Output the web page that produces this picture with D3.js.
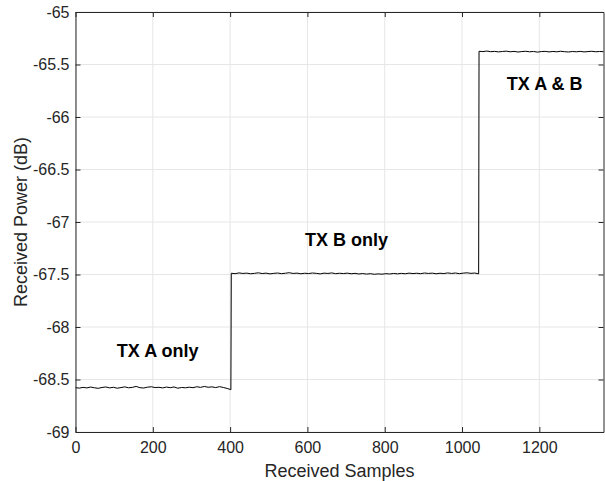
<!DOCTYPE html>
<html>
<head>
<meta charset="utf-8">
<script src="https://cdn.jsdelivr.net/npm/d3@7"></script>
<style>
  html, body { margin: 0; padding: 0; background: #fff; }
  svg { display: block; font-family: "Liberation Sans", Arial, Helvetica, sans-serif; }
</style>
</head>
<body>
<svg id="chart" width="605" height="481"></svg>
<script>
// Received power per sample, in dB, for the three transmit configurations.
// Each segment covers a span of sample indices; values are sampled evenly across it.
const segmentNames = ["TX A only", "TX B only", "TX A & B"];
const segmentStart = [0, 403, 1044];
const segmentEnd = [402, 1043, 1366];

const powerTxA = [
  -68.578, -68.582, -68.575, -68.580, -68.572, -68.579, -68.584, -68.576, -68.571, -68.580,
  -68.574, -68.583, -68.577, -68.570, -68.579, -68.575, -68.566, -68.578, -68.581, -68.573,
  -68.569, -68.577, -68.574, -68.580, -68.572, -68.578, -68.571, -68.583, -68.576, -68.579,
  -68.573, -68.578, -68.569, -68.575, -68.566, -68.574, -68.570, -68.577, -68.568, -68.576,
  -68.585, -68.597
];
const powerTxB = [
  -67.488, -67.492, -67.485, -67.490, -67.487, -67.493, -67.489, -67.484, -67.491, -67.487,
  -67.494, -67.489, -67.486, -67.492, -67.488, -67.483, -67.490, -67.487, -67.493, -67.488,
  -67.491, -67.486, -67.489, -67.494, -67.487, -67.490, -67.485, -67.492, -67.488, -67.491,
  -67.487, -67.493, -67.489, -67.495, -67.491, -67.496, -67.492, -67.498, -67.494, -67.497,
  -67.492, -67.495, -67.490, -67.494, -67.489, -67.493, -67.487, -67.491, -67.488, -67.492,
  -67.486, -67.490, -67.487, -67.493, -67.488, -67.491, -67.485, -67.490, -67.486, -67.492,
  -67.487, -67.484, -67.489, -67.486, -67.494
];
const powerTxAB = [
  -65.374, -65.377, -65.372, -65.378, -65.375, -65.380, -65.376, -65.373, -65.379, -65.375,
  -65.381, -65.377, -65.374, -65.379, -65.376, -65.382, -65.377, -65.375, -65.380, -65.376,
  -65.379, -65.374, -65.378, -65.381, -65.376, -65.379, -65.375, -65.380, -65.377, -65.374,
  -65.379, -65.376, -65.378
];
const segmentValues = [powerTxA, powerTxB, powerTxAB];

// Annotation anchors (sample index, dB) for the segment labels
const labelSample = [107, 594, 1116];
const labelPower = [-68.29, -67.23, -65.745];

// Axis ticks
const xTicks = [0, 200, 400, 600, 800, 1000, 1200];
const yTicks = [-69, -68.5, -68, -67.5, -67, -66.5, -66, -65.5, -65];
const xDomain = [0, 1366];
const yDomain = [-69, -65];

const svg = d3.select("#chart");
const margin = { left: 75.5, right: 1.5, top: 12, bottom: 49 };
const W = 605, H = 481;
const x = d3.scaleLinear().domain(xDomain).range([margin.left, W - margin.right]);
const y = d3.scaleLinear().domain(yDomain).range([H - margin.bottom, margin.top]);

const axisColor = "#262626";
const gridColor = "#e6e6e6";
const plainNumber = d => String(d);

// Grid
const grid = svg.append("g");
grid.selectAll("line.gx").data(xTicks).join("line")
  .attr("x1", d => x(d)).attr("x2", d => x(d))
  .attr("y1", y.range()[0]).attr("y2", y.range()[1])
  .attr("stroke", gridColor).attr("stroke-width", 1);
grid.selectAll("line.gy").data(yTicks).join("line")
  .attr("y1", d => y(d)).attr("y2", d => y(d))
  .attr("x1", x.range()[0]).attr("x2", x.range()[1])
  .attr("stroke", gridColor).attr("stroke-width", 1);

// Data line built from the segment arrays
const points = [];
segmentValues.forEach((vals, s) => {
  const n = vals.length;
  vals.forEach((v, i) => {
    points.push([segmentStart[s] + i * (segmentEnd[s] - segmentStart[s]) / (n - 1), v]);
  });
});
const line = d3.line().x(d => x(d[0])).y(d => y(d[1]));
svg.append("path").datum(points)
  .attr("d", line)
  .attr("fill", "none")
  .attr("stroke", "#000")
  .attr("stroke-width", 1)
  .attr("stroke-linejoin", "round");

// Axes with inward ticks on all four sides
const tickLen = 5;
const fontTick = 16;
const axBottom = svg.append("g").attr("transform", `translate(0,${y.range()[0]})`)
  .call(d3.axisBottom(x).tickValues(xTicks).tickSizeInner(-tickLen).tickSizeOuter(0)
    .tickPadding(10).tickFormat(plainNumber));
const axTop = svg.append("g").attr("transform", `translate(0,${y.range()[1]})`)
  .call(d3.axisTop(x).tickValues(xTicks).tickSizeInner(-tickLen).tickSizeOuter(0).tickFormat(""));
const axLeft = svg.append("g").attr("transform", `translate(${x.range()[0]},0)`)
  .call(d3.axisLeft(y).tickValues(yTicks).tickSizeInner(-tickLen).tickSizeOuter(0)
    .tickPadding(6).tickFormat(plainNumber));
const axRight = svg.append("g").attr("transform", `translate(${x.range()[1]},0)`)
  .call(d3.axisRight(y).tickValues(yTicks).tickSizeInner(-tickLen).tickSizeOuter(0).tickFormat(""));

[axBottom, axTop, axLeft, axRight].forEach(g => {
  g.select(".domain").attr("stroke", axisColor).attr("stroke-width", 1);
  g.selectAll(".tick line").attr("stroke", axisColor).attr("stroke-width", 1);
  g.selectAll(".tick text").attr("fill", axisColor)
    .style("font-family", '"Liberation Sans", Arial, sans-serif')
    .style("font-size", fontTick + "px");
});

// Axis titles
svg.append("text")
  .attr("x", (x.range()[0] + x.range()[1]) / 2)
  .attr("y", 477)
  .attr("text-anchor", "middle")
  .attr("fill", axisColor)
  .style("font-size", "18px")
  .text("Received Samples");
svg.append("text")
  .attr("transform", `translate(27,${(y.range()[0] + y.range()[1]) / 2}) rotate(-90)`)
  .attr("text-anchor", "middle")
  .attr("fill", axisColor)
  .style("font-size", "18px")
  .text("Received Power (dB)");

// Segment labels
svg.selectAll("text.seg").data(segmentNames).join("text")
  .attr("class", "seg")
  .attr("x", (d, i) => x(labelSample[i]))
  .attr("y", (d, i) => y(labelPower[i]))
  .attr("fill", "#000")
  .style("font-size", "18px")
  .style("font-weight", "bold")
  .text(d => d);
</script>
</body>
</html>
